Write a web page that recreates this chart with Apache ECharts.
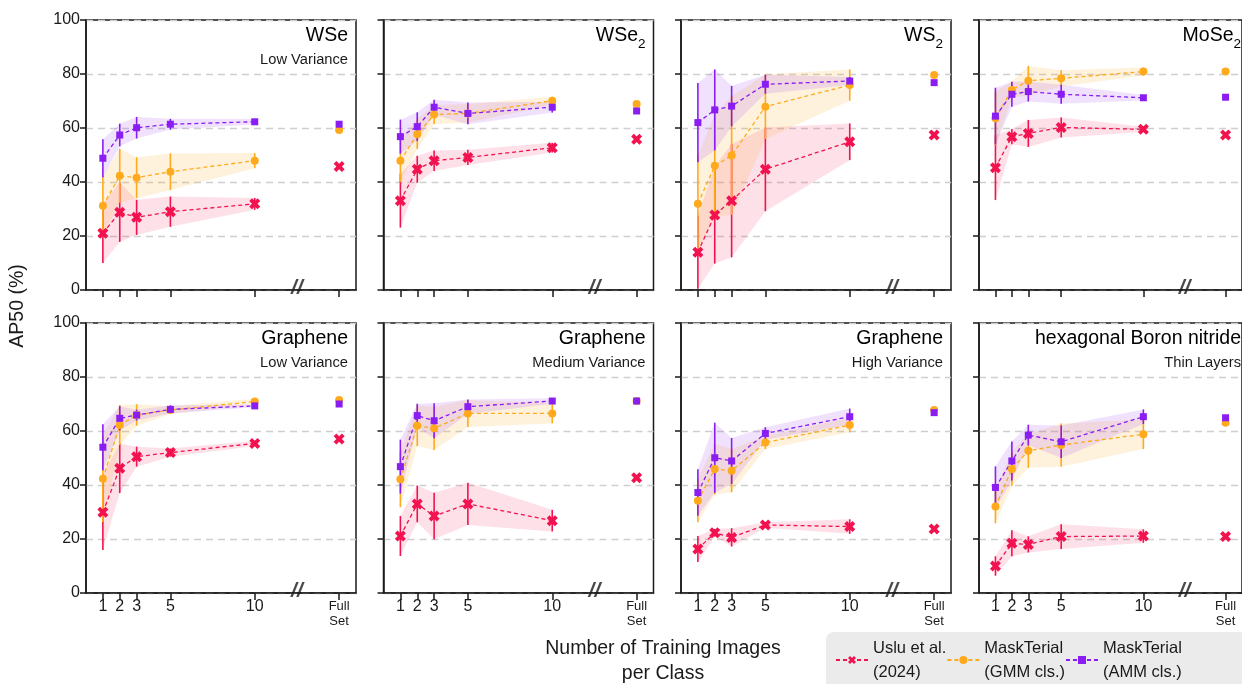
<!DOCTYPE html>
<html>
<head>
<meta charset="utf-8">
<script src="https://cdn.jsdelivr.net/npm/echarts@6/dist/echarts.min.js"></script>
<style>
  html, body { margin: 0; padding: 0; background: #fff; }
  #chart { width: 1242px; height: 684px; }
</style>
</head>
<body>
<div id="chart"></div>
<script>
// training images per class, and where "Full Set" sits on the x axis
const nTrain = [1, 2, 3, 5, 10];
const fullSetX = 15;
const breakX = 12.5;

const titles = ['WSe', 'WSe', 'WS', 'MoSe', 'Graphene', 'Graphene', 'Graphene', 'hexagonal Boron nitride'];
const titleSubs = ['', '2', '2', '2', '', '', '', ''];
const subtitles = ['Low Variance', '', '', '', 'Low Variance', 'Medium Variance', 'High Variance', 'Thin Layers'];

// Uslu et al. (2024)
const usluMean = [
  [21, 28.8, 26.9, 29, 31.9], [33.1, 44.7, 47.9, 49.1, 52.7], [14, 27.8, 33.1, 44.7, 54.9], [45.3, 56.8, 58, 60.2, 59.5],
  [29.9, 46.2, 50.5, 52, 55.4], [21.1, 33, 28.5, 33, 26.8], [16.3, 22.3, 20.6, 25.2, 24.6], [10, 18.4, 18, 20.9, 21.1]
];
const usluStd = [
  [11, 11, 6.5, 5.6, 2.2], [10, 5, 3.8, 2.8, 1.8], [13.5, 18, 21, 15.5, 6.8], [12, 2.8, 5, 3.7, 1],
  [14, 9.2, 3.7, 1.5, 1], [7.4, 6.8, 8.6, 7.8, 4], [4.8, 1.4, 3.4, 1, 2.7], [3.6, 4.8, 3, 4.6, 2.5]
];
const usluFull = [45.7, 55.8, 57.4, 57.4, 57, 42.7, 23.7, 20.9];

// MaskTerial (GMM cls.)
const gmmMean = [
  [31.2, 42.3, 41.6, 43.8, 47.9], [47.9, 57.7, 65, 65.4, 70.1], [31.9, 46, 49.8, 67.9, 75.9], [63.6, 74.1, 77.5, 78.4, 80.9],
  [42.3, 62.2, 65.9, 67.8, 70.9], [42.1, 61.9, 61, 66.5, 66.5], [34.2, 45.9, 45.3, 55.7, 62.2], [32, 45.9, 52.7, 54.8, 58.8]
];
const gmmStd = [
  [11, 10, 7.6, 6.8, 2.8], [8, 5.5, 3.5, 3.5, 1.5], [18, 19, 22, 12, 5.8], [10, 3, 5.5, 3, 1.5],
  [16, 7.4, 4, 1.5, 1], [10.3, 7.5, 8, 5, 3.7], [8, 9.4, 8, 2.4, 2.7], [6.2, 6.3, 6.3, 8, 5.5]
];
const gmmFull = [59.3, 68.9, 79.6, 80.9, 71.5, 71.1, 67.8, 63.1];

// MaskTerial (AMM cls.)
const ammMean = [
  [48.8, 57.4, 60.1, 61.4, 62.3], [56.8, 60.5, 67.7, 65.4, 67.7], [62, 66.7, 68.1, 76.2, 77.4], [64.4, 72.5, 73.5, 72.5, 71.2],
  [54, 64.7, 65.9, 68, 69.3], [46.8, 65.7, 63.8, 69, 71.1], [37.2, 50.1, 48.9, 59.1, 65.3], [39.1, 48.9, 58.5, 56, 65.3]
];
const ammStd = [
  [7, 4.2, 4, 2, 1], [6.3, 5.3, 2.8, 4, 2], [14.7, 15, 7.5, 3.5, 1.5], [10.5, 4.6, 3.7, 3.5, 1],
  [8.5, 4.5, 2, 1.5, 0.5], [10, 4.4, 6.5, 2.7, 1], [8.6, 13, 8.5, 2.3, 3], [7.8, 7.2, 3.8, 6, 2.7]
];
const ammFull = [61.4, 66.3, 76.8, 71.4, 70, 71.1, 66.8, 64.9];

const FONT = '"Liberation Sans", Arial, sans-serif';
const INK = '#1a1a1a';
const crossPath = 'path://M2.5,0 L5,2.5 L7.5,0 L10,2.5 L7.5,5 L10,7.5 L7.5,10 L5,7.5 L2.5,10 L0,7.5 L2.5,5 L0,2.5 Z';

const methods = [
  { name: 'Uslu et al.\n(2024)', mean: usluMean, std: usluStd, full: usluFull,
    color: '#f2124f', band: 'rgba(242,18,79,0.13)', symbol: crossPath, size: 11 },
  { name: 'MaskTerial\n(GMM cls.)', mean: gmmMean, std: gmmStd, full: gmmFull,
    color: '#ffaa1c', band: 'rgba(255,170,28,0.15)', symbol: 'circle', size: 8 },
  { name: 'MaskTerial\n(AMM cls.)', mean: ammMean, std: ammStd, full: ammFull,
    color: '#8a1df2', band: 'rgba(138,29,242,0.13)', symbol: 'rect', size: 7 }
];

const lefts = [86, 383.5, 681, 979];
const tops = [20, 323];
const W = 270, H = 270;

let grids = [], xAxes = [], yAxes = [], series = [], graphics = [];

// legend backdrop, runs off the right and bottom edge like the original
graphics.push({
  type: 'rect', z: -1, shape: { x: 826, y: 632, width: 440, height: 70, r: 8 },
  style: { fill: '#ebebeb' }
});

for (let i = 0; i < 8; i++) {
  const col = i % 4, row = Math.floor(i / 4);
  const gl = lefts[col], gt = tops[row];
  grids.push({ left: gl, top: gt, width: W, height: H, show: true, borderColor: INK, borderWidth: 1.5,
    backgroundColor: 'transparent' });

  xAxes.push({
    type: 'value', gridIndex: i, min: 0, max: 16,
    axisLine: { show: true, lineStyle: { color: INK, width: 1.5 } },
    axisTick: { show: true, length: 7, lineStyle: { color: INK, width: 1.5 }, customValues: nTrain.concat([fullSetX]) },
    axisLabel: {
      show: row === 1, customValues: nTrain.concat([fullSetX]), color: INK, fontFamily: FONT, fontSize: 16, margin: 6,
      formatter: v => v === fullSetX ? '{s|Full}\n{s|Set}' : String(v),
      rich: { s: { fontSize: 13, lineHeight: 15, fontFamily: FONT, color: INK } }
    },
    splitLine: { show: false }
  });

  yAxes.push({
    type: 'value', gridIndex: i, min: 0, max: 100, interval: 20,
    axisLine: { show: true, lineStyle: { color: INK, width: 1.5 } },
    axisTick: { show: true, length: 6, lineStyle: { color: INK, width: 1.5 } },
    axisLabel: { show: col === 0, color: INK, fontFamily: FONT, fontSize: 16, margin: 6 },
    splitLine: { show: true, lineStyle: { color: '#cfcfcf', width: 1.3, type: [7, 5] } }
  });

  // shaded +-std bands, one polygon per method
  methods.forEach(m => {
    const mean = m.mean[i], std = m.std[i];
    series.push({
      type: 'custom', xAxisIndex: i, yAxisIndex: i, z: 1, silent: true,
      encode: { x: 0, y: [1, 2] },
      data: nTrain.map((n, k) => [n, mean[k] - std[k], mean[k] + std[k]]),
      renderItem: (params, api) => {
        if (params.dataIndex !== 0) return null;
        const upper = nTrain.map((n, k) => api.coord([n, mean[k] + std[k]]));
        const lower = nTrain.map((n, k) => api.coord([n, Math.max(0, mean[k] - std[k])])).reverse();
        return { type: 'polygon', shape: { points: upper.concat(lower) }, style: { fill: m.band } };
      }
    });
  });

  // error bars
  methods.forEach(m => {
    series.push({
      type: 'custom', xAxisIndex: i, yAxisIndex: i, z: 3, silent: true,
      encode: { x: 0, y: [1, 2] },
      data: nTrain.map((n, k) => [n, Math.max(0, m.mean[i][k] - m.std[i][k]), m.mean[i][k] + m.std[i][k]]),
      renderItem: (params, api) => {
        const p1 = api.coord([api.value(0), api.value(1)]);
        const p2 = api.coord([api.value(0), api.value(2)]);
        return { type: 'line', shape: { x1: p1[0], y1: p1[1], x2: p2[0], y2: p2[1] },
          style: { stroke: m.color, lineWidth: 1.6 } };
      }
    });
  });

  // mean lines with markers, and the full-set point
  methods.forEach(m => {
    series.push({
      name: m.name, type: 'line', xAxisIndex: i, yAxisIndex: i, z: 4,
      symbol: m.symbol, symbolSize: m.size, showAllSymbol: true,
      itemStyle: { color: m.color },
      lineStyle: { color: m.color, width: 1.3, type: [4, 3] },
      data: nTrain.map((n, k) => [n, m.mean[i][k]])
    });
    series.push({
      type: 'scatter', xAxisIndex: i, yAxisIndex: i, z: 4,
      symbol: m.symbol, symbolSize: m.size, itemStyle: { color: m.color, opacity: 1 },
      data: [[fullSetX, m.full[i]]]
    });
  });

  // axis break mark
  series.push({
    type: 'scatter', xAxisIndex: i, yAxisIndex: i, z: 6, silent: true, clip: false,
    symbolSize: 1, itemStyle: { color: 'transparent' },
    label: { show: true, position: 'inside', formatter: '//', color: INK, fontFamily: FONT,
      fontSize: 21, fontWeight: 'bold', fontStyle: 'italic', offset: [0, -2] },
    data: [[breakX, 0]]
  });

  // panel titles
  const tx = gl + W - 8;
  graphics.push({
    type: 'text', x: tx, y: gt + 6, z: 10,
    style: {
      text: '{m|' + titles[i] + '}' + (titleSubs[i] ? '{s|' + titleSubs[i] + '}' : ''),
      align: 'right', verticalAlign: 'top',
      rich: {
        m: { fontFamily: FONT, fontSize: 19.5, lineHeight: 22, color: INK, verticalAlign: 'top' },
        s: { fontFamily: FONT, fontSize: 13.5, lineHeight: 13, color: INK, verticalAlign: 'top', padding: [11, 0, 0, 0] }
      }
    }
  });
  if (subtitles[i]) {
    graphics.push({
      type: 'text', x: tx, y: gt + 32, z: 10,
      style: { text: subtitles[i], align: 'right', verticalAlign: 'top', fontFamily: FONT, fontSize: 14.7, fill: INK }
    });
  }
}

graphics.push({
  type: 'text', x: 18, y: 306, rotation: Math.PI / 2,
  style: { text: 'AP50 (%)', align: 'center', verticalAlign: 'middle', fontFamily: FONT, fontSize: 19.5, fill: INK }
});
graphics.push({
  type: 'text', x: 663, y: 661,
  style: { text: 'Number of Training Images\nper Class', align: 'center', verticalAlign: 'middle',
    fontFamily: FONT, fontSize: 19.5, lineHeight: 25, fill: INK }
});

const chart = echarts.init(document.getElementById('chart'), null, { renderer: 'canvas' });
chart.setOption({
  animation: false,
  backgroundColor: '#fff',
  grid: grids,
  xAxis: xAxes,
  yAxis: yAxes,
  legend: {
    data: methods.map(m => m.name),
    left: 827, top: 634,
    orient: 'horizontal',
    padding: [2, 0, 0, 8],
    itemWidth: 32, itemHeight: 10, itemGap: 0,
    selectedMode: false,
    textStyle: { fontFamily: FONT, fontSize: 16.5, lineHeight: 24, color: INK }
  },
  graphic: graphics,
  series: series
});
</script>
</body>
</html>
